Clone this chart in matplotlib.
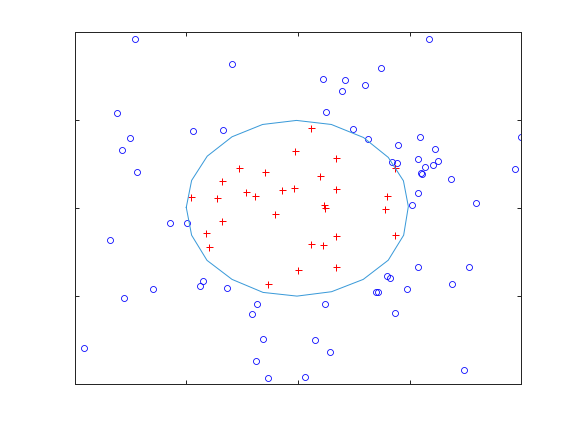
import matplotlib
matplotlib.use("Agg")
import matplotlib.pyplot as plt
import numpy as np

# negative class (outside boundary)
neg_x = [-0.730, -0.294, -0.811, -0.472, -0.338, -0.751, -0.788, -0.723, -0.574, -0.496,
         -0.842, -0.424, -0.441, -0.319, -0.650, -0.781, -0.186, -0.205, -0.156, -0.961,
         -0.190, -0.133, 0.030, 0.588, 0.372, 0.110, 0.209, 0.298, 0.198, 0.126,
         0.245, 0.548, 0.997, 0.312, 0.448, 0.615, 0.539, 0.629, 0.423, 0.442,
         0.605, 0.567, 0.549, 0.553, 0.973, 0.687, 0.539, 0.797, 0.511, 0.539,
         0.766, 0.397, 0.411, 0.688, 0.351, 0.356, 0.490, 0.122, 0.432, 0.078,
         0.145, 0.745]
neg_y = [0.964, 0.820, 0.544, 0.438, 0.447, 0.402, 0.334, 0.205, -0.081, -0.085,
         -0.180, -0.413, -0.443, -0.453, -0.456, -0.507, -0.545, -0.601, -0.743, -0.795,
         -0.869, -0.966, -0.957, 0.964, 0.795, 0.733, 0.727, 0.699, 0.669, 0.545,
         0.453, 0.407, 0.403, 0.396, 0.362, 0.339, 0.280, 0.271, 0.265, 0.256,
         0.248, 0.235, 0.203, 0.193, 0.223, 0.166, 0.087, 0.030, 0.021, -0.335,
         -0.335, -0.386, -0.394, -0.428, -0.476, -0.477, -0.456, -0.541, -0.595, -0.748,
         -0.818, -0.919]

# positive class (inside boundary)
pos_x = [-0.016, -0.266, -0.147, -0.342, -0.235, -0.195, -0.074, -0.020, -0.478, -0.362,
         0.060, 0.168, 0.099, 0.168, 0.432, 0.399, 0.114, 0.122, 0.391, -0.102,
         -0.342, -0.414, -0.400, -0.133, 0.000, 0.172, 0.435, 0.059, 0.113, 0.168]
pos_y = [0.324, 0.227, 0.205, 0.155, 0.095, 0.070, 0.104, 0.114, 0.064, 0.057,
         0.459, 0.284, 0.182, 0.108, 0.231, 0.070, 0.017, 0.004, -0.006, -0.034,
         -0.074, -0.140, -0.220, -0.432, -0.352, -0.157, -0.152, -0.203, -0.209, -0.330]

# decision boundary
bnd_x = [-0.501, -0.477, -0.407, -0.296, -0.159, -0.007, 0.149, 0.293, 0.404, 0.472,
         0.494, 0.473, 0.404, 0.292, 0.150, -0.005, -0.157, -0.296, -0.408, -0.477, -0.501]
bnd_y = [0.006, 0.159, 0.297, 0.407, 0.477, 0.500, 0.477, 0.403, 0.290, 0.157,
         0.011, -0.152, -0.294, -0.403, -0.473, -0.498, -0.477, -0.403, -0.295, -0.152, 0.006]

fig = plt.figure(figsize=(8, 6), dpi=72)
ax = fig.add_axes([0.13, 0.11, 0.775, 0.815])

ax.plot(neg_x, neg_y, 'o', color='#0000ff', markersize=6, markerfacecolor='none', markeredgewidth=0.8)
ax.plot(pos_x, pos_y, '+', color='#ff0000', markersize=7, markeredgewidth=1.0)
ax.plot(bnd_x, bnd_y, '-', color='#3a9ad9', linewidth=1.0)

ax.set_xlim(-1, 1)
ax.set_ylim(-1, 1)
ax.set_xticks([-0.5, 0, 0.5])
ax.set_yticks([-0.5, 0, 0.5])
ax.set_xticklabels([])
ax.set_yticklabels([])
ax.tick_params(direction='in', length=4, width=1, top=True, right=True, color='#262626')
for s in ax.spines.values():
    s.set_color('#262626')
    s.set_linewidth(1.0)

fig.savefig("out.png", dpi=72)
